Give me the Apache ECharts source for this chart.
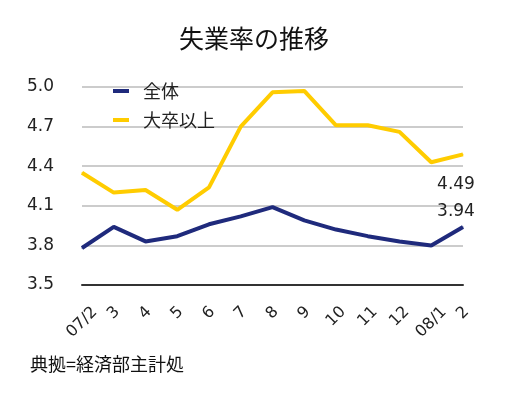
<!DOCTYPE html>
<html><head><meta charset="utf-8">
<script src="https://cdn.jsdelivr.net/npm/echarts@6/dist/echarts.min.js"></script>
<style>html,body{margin:0;padding:0;background:#fff}#c{width:508px;height:395px}</style>
</head><body><div id="c"></div>
<script>
const categories = ['07/2','3','4','5','6','7','8','9','10','11','12','08/1','2'];
const overall = [3.78,3.94,3.83,3.87,3.96,4.02,4.09,3.99,3.92,3.87,3.83,3.80,3.94];
const graduates = [4.35,4.20,4.22,4.07,4.24,4.70,4.96,4.97,4.71,4.71,4.66,4.43,4.49];
const yTicks = [3.5,3.8,4.1,4.4,4.7,5.0];
const seriesNames = ['全体','大卒以上'];
const titleText = '失業率の推移';
const sourceText = '典拠=経済部主計処';

const font = '"Noto Sans CJK JP","Noto Sans",sans-serif';
const numFont = '"DejaVu Sans","Noto Sans",sans-serif';
const xFontSize = 16;

// measure category label widths so rotated labels hang with a common top edge
const ctx = document.createElement('canvas').getContext('2d');
ctx.font = xFontSize + 'px ' + numFont;
const widths = categories.map(c => ctx.measureText(c).width);
const wMin = Math.min(...widths);
const rich = {};
categories.forEach((c, i) => {
  const p = Math.round((widths[i] - wMin) / 2);
  rich['c' + i] = {fontSize: xFontSize, fontFamily: numFont, color: '#222', padding: [p, p, 0, 0]};
});

function lastLabel(arr, opts){
  return arr.map((v,i)=> i===arr.length-1 ? {value:v, label:Object.assign({show:true, color:'#222', fontSize:17, fontFamily:numFont, formatter: v.toFixed(2)}, opts)} : v);
}
const chart = echarts.init(document.getElementById('c'));
chart.setOption({
  animation:false,
  backgroundColor:'#fff',
  title:[{text:titleText,left:'center',top:21,textStyle:{fontSize:25,fontWeight:'normal',color:'#111',fontFamily:font}},
         {text:sourceText,left:25,top:350,textStyle:{fontSize:18,fontWeight:'normal',color:'#111',fontFamily:font}}],
  legend:{orient:'vertical',left:108,top:77,itemWidth:16,itemHeight:4,itemGap:11,icon:'rect',
    textStyle:{fontSize:18,color:'#222',fontFamily:font,padding:[0,0,0,9]},data:seriesNames},
  grid:{left:82,right:45,top:87,bottom:110},
  xAxis:{type:'category',data:categories,boundaryGap:false,
    axisLine:{lineStyle:{color:'#333',width:2}},axisTick:{show:false},
    axisLabel:{rotate:45,align:'center',verticalAlign:'middle',fontSize:xFontSize,color:'#222',fontFamily:numFont,margin:28,interval:0,
      formatter:(v,i)=>'{c'+i+'|'+v+'}',rich:rich}},
  yAxis:{type:'value',min:3.5,max:5.0,interval:0.3,
    axisLine:{show:false},axisTick:{show:false},
    splitLine:{lineStyle:{color:'#bbb',width:1.5}},
    axisLabel:{fontSize:17,color:'#222',fontFamily:numFont,margin:28,formatter:v=>v.toFixed(1)}},
  series:[
    {name:seriesNames[0],type:'line',data:lastLabel(overall,{position:'top',offset:[-7,-1]}),
     symbol:'circle',symbolSize:1,lineStyle:{color:'#1f2a7c',width:4},itemStyle:{color:'#1f2a7c'}},
    {name:seriesNames[1],type:'line',data:lastLabel(graduates,{position:'bottom',offset:[-7,16]}),
     symbol:'circle',symbolSize:1,lineStyle:{color:'#ffcc00',width:4},itemStyle:{color:'#ffcc00'}}
  ]
});
</script></body></html>
